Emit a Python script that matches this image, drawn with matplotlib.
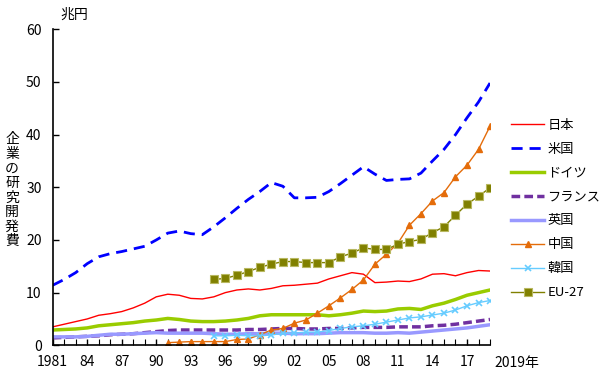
import numpy as np
import matplotlib
matplotlib.use("Agg")
import matplotlib.pyplot as plt
from matplotlib.ticker import MultipleLocator

plt.rcParams["font.family"] = ["Noto Sans CJK JP", "DejaVu Sans"]

years = list(range(1981, 2020))
japan = [3.5, 4.0, 4.5, 5.0, 5.7, 6.0, 6.4, 7.1, 8.0, 9.2, 9.7, 9.5, 8.9, 8.8, 9.2,
         10.0, 10.5, 10.7, 10.5, 10.8, 11.3, 11.4, 11.6, 11.8, 12.6, 13.2, 13.8, 13.5,
         11.9, 12.0, 12.2, 12.1, 12.6, 13.5, 13.6, 13.2, 13.8, 14.2, 14.1]
usa = [11.4, 12.5, 13.8, 15.5, 16.8, 17.4, 17.8, 18.3, 18.8, 20.0, 21.3, 21.7, 21.2,
       21.0, 22.5, 24.2, 26.0, 27.7, 29.2, 30.9, 30.2, 28.0, 28.0, 28.1, 29.2, 30.7,
       32.3, 33.9, 32.5, 31.3, 31.5, 31.6, 32.7, 35.0, 37.2, 40.0, 43.2, 46.2, 49.8]
germany = [2.9, 3.0, 3.1, 3.3, 3.7, 3.9, 4.1, 4.3, 4.6, 4.8, 5.1, 4.9, 4.6, 4.5, 4.5,
           4.6, 4.8, 5.1, 5.6, 5.8, 5.8, 5.8, 5.8, 5.8, 5.6, 5.8, 6.1, 6.5, 6.4, 6.5,
           6.9, 7.0, 6.8, 7.5, 8.0, 8.7, 9.5, 10.0, 10.5]
france = [1.4, 1.5, 1.6, 1.7, 1.8, 2.0, 2.1, 2.2, 2.4, 2.6, 2.8, 2.9, 2.9, 2.9, 2.9,
          2.9, 2.9, 3.0, 3.0, 3.1, 3.2, 3.2, 3.1, 3.1, 3.2, 3.2, 3.3, 3.4, 3.4, 3.4,
          3.5, 3.5, 3.5, 3.7, 3.8, 4.0, 4.3, 4.6, 4.9]
uk = [1.6, 1.6, 1.6, 1.7, 1.9, 2.1, 2.1, 2.2, 2.3, 2.4, 2.3, 2.3, 2.3, 2.3, 2.2, 2.1,
      2.1, 2.2, 2.2, 2.3, 2.3, 2.2, 2.2, 2.2, 2.3, 2.4, 2.4, 2.4, 2.3, 2.3, 2.4, 2.3,
      2.5, 2.7, 2.9, 3.1, 3.3, 3.6, 3.9]

china_years = list(range(1991, 2020))
china = [0.5, 0.6, 0.7, 0.7, 0.7, 0.7, 1.1, 1.2, 2.0, 2.9, 3.2, 4.2, 4.8, 6.1, 7.5,
         9.0, 10.6, 12.4, 15.4, 17.3, 19.4, 22.8, 25.0, 27.4, 29.0, 32.0, 34.2, 37.2,
         41.6]

late_years = list(range(1995, 2020))
korea = [1.8, 1.8, 1.9, 1.8, 1.8, 1.95, 2.3, 2.3, 2.5, 2.5, 2.8, 3.2, 3.5, 3.7, 4.0,
         4.4, 4.8, 5.2, 5.4, 5.75, 6.1, 6.7, 7.5, 8.1, 8.5]
eu27 = [12.5, 12.7, 13.3, 14.0, 14.8, 15.4, 15.9, 15.9, 15.7, 15.7, 15.7, 16.8, 17.5,
        18.5, 18.2, 18.2, 19.2, 19.7, 20.1, 21.4, 22.5, 24.7, 26.8, 28.3, 29.9]

tick_years = list(range(1981, 2018, 3))
tick_labels = ["1981", "84", "87", "90", "93", "96", "99", "02", "05", "08", "11",
               "14", "17"]

fig = plt.figure(figsize=(6, 3.73), dpi=100)
ax = fig.add_axes([0.0878, 0.0743, 0.7289, 0.8471])

ax.plot(years, japan, color="#ff0000", lw=1.0, label="日本")
ax.plot(years, usa, color="#0000ff", lw=2.0, dashes=(4, 2.5), label="米国")
ax.plot(years, germany, color="#99cc00", lw=2.5, label="ドイツ")
ax.plot(years, france, color="#7030a0", lw=2.5, dashes=(2.5, 1.2), label="フランス")
ax.plot(years, uk, color="#9999ff", lw=2.5, label="英国")
ax.plot(china_years, china, color="#e46c0a", lw=1.0, marker="^", ms=5,
        label="中国")
ax.plot(late_years, korea, color="#66ccff", lw=1.0, marker="x", ms=4, mew=1.2,
        label="韓国")
ax.plot(late_years, eu27, color="#808000", lw=1.0, marker="s", ms=6,
        mec="#b8b860", mew=0.8, label="EU-27")

ax.set_xlim(1981, 2019)
ax.set_ylim(0, 60)
ax.spines["top"].set_visible(False)
ax.spines["right"].set_visible(False)
ax.spines["left"].set_linewidth(1.2)
ax.spines["bottom"].set_linewidth(1.2)
ax.set_xticks(tick_years)
ax.set_xticklabels(tick_labels)
ax.xaxis.set_minor_locator(MultipleLocator(1))
ax.yaxis.set_major_locator(MultipleLocator(10))
ax.tick_params(axis="both", direction="in", labelsize=10, width=1, length=4)
ax.tick_params(axis="x", which="minor", direction="in", length=4, width=0.8)
ax.tick_params(axis="x", pad=7)
ax.tick_params(axis="y", pad=8)

ax.text(2019.4, -3.3, "2019年", fontsize=10, ha="left", va="center",
        transform=ax.transData, clip_on=False)
fig.text(0.1, 0.96, "兆円", fontsize=10, ha="left", va="center")
fig.text(0.02, 0.49, "\n".join("企業の研究開発費"), fontsize=10, ha="center",
         va="center", linespacing=1.05)

fig.legend(loc="upper left", bbox_to_anchor=(0.852, 0.682), frameon=False,
           fontsize=9.5, handlelength=2.5, labelspacing=0.83, handletextpad=0.25,
           borderaxespad=0, borderpad=0)

fig.savefig("out.png", dpi=100)
